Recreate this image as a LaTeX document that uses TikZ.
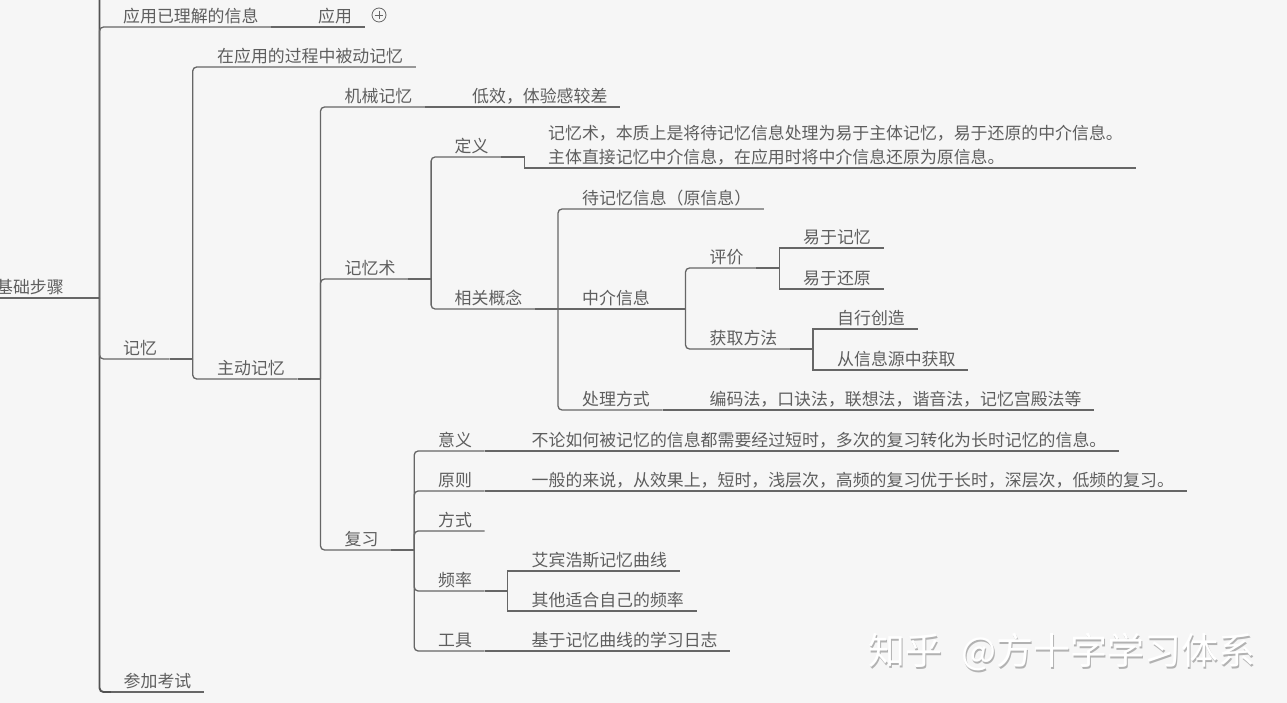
\documentclass[tikz,border=0pt]{standalone}
\usepackage{fontspec}
\setmainfont{Noto Sans CJK SC}
\definecolor{paper}{HTML}{F6F6F6}
\definecolor{ink}{HTML}{5E5E5E}
\definecolor{rule}{HTML}{666666}
\begin{document}
\begin{tikzpicture}[x=1pt,y=1pt]
\tikzstyle{every node}+=[inner ysep=3pt,inner xsep=12.5pt,text=ink,font=\fontsize{16.9}{24}\selectfont]
\tikzstyle{topic}=[anchor=south west,text height=15pt,text depth=1.5pt]
\tikzstyle{branch}=[rule,line width=1.3pt,rounded corners=4pt]
\tikzstyle{fork}=[rule,line width=1.3pt]
\tikzstyle{trunk}=[black!68,line width=1.9pt,rounded corners=4pt]
\useasboundingbox (0,0) rectangle (1287,-703);
\clip (0,0) rectangle (1287,-703);
\fill [paper] (0,0) rectangle (1287,-703);
\coordinate (offtop) at (99.5,0);
\node [topic] (jichu) at (-16.5,-298) {基础步骤};
\node [topic] (lijie) at (110.5,-27) {应用已理解的信息};
\node [topic] (yingyong) at (305.5,-27) {应用};
\node [topic] (jiyi) at (110.5,-359) {记忆};
\node [topic] (kaoshi) at (111,-692) {参加考试};
\node [topic] (beidong) at (204.5,-67) {在应用的过程中被动记忆};
\node [topic] (zhudong) at (204.5,-379) {主动记忆};
\node [topic] (jixie) at (332,-107) {机械记忆};
\node [topic] (dixiao) at (459.5,-107) {低效，体验感较差};
\node [topic] (jiyishu) at (332,-279) {记忆术};
\node [topic] (fuxi) at (332,-550) {复习};
\node [topic] (dingyi) at (442,-157) {定义};
\node [topic,align=left,text height=39pt] (neirong) at (535.5,-168) {记忆术，本质上是将待记忆信息处理为易于主体记忆，易于还原的中介信息。\\主体直接记忆中介信息，在应用时将中介信息还原为原信息。};
\node [topic] (gainian) at (442,-309) {相关概念};
\node [topic] (daijiyi) at (569.5,-209) {待记忆信息（原信息）};
\node [topic] (zhongjie) at (569.5,-309) {中介信息};
\node [topic] (chuli) at (569.5,-410) {处理方式};
\node [topic] (bianma) at (697,-410) {编码法，口诀法，联想法，谐音法，记忆宫殿法等};
\node [topic] (pingjia) at (697,-268) {评价};
\node [topic] (huoqu) at (697,-349) {获取方法};
\node [topic] (yiji) at (790.5,-248) {易于记忆};
\node [topic] (yihuan) at (790.5,-289) {易于还原};
\node [topic] (zixing) at (824.5,-329) {自行创造};
\node [topic] (xinxiyuan) at (824.5,-370) {从信息源中获取};
\node [topic] (yiyi) at (425.5,-451) {意义};
\node [topic] (buzhi) at (519,-451) {不论如何被记忆的信息都需要经过短时，多次的复习转化为长时记忆的信息。};
\node [topic] (yuanze) at (425.5,-491) {原则};
\node [topic] (yiban) at (519,-491) {一般的来说，从效果上，短时，浅层次，高频的复习优于长时，深层次，低频的复习。};
\node [topic] (fangshi) at (425.5,-531) {方式};
\node [topic] (pinlv) at (425.5,-591) {频率};
\node [topic] (aibin) at (519,-571) {艾宾浩斯记忆曲线};
\node [topic] (qita) at (519,-611) {其他适合自己的频率};
\node [topic] (gongju) at (425.5,-651) {工具};
\node [topic] (rizhi) at (519,-651) {基于记忆曲线的学习日志};
\node [draw=rule,line width=0.8pt,circle,inner sep=0pt,minimum size=14pt] (more) at (379,-15) {};
\draw [rule,line width=0.8pt,shorten <=3pt,shorten >=3pt] (more.west) -- (more.east);
\draw [rule,line width=0.8pt,shorten <=3pt,shorten >=3pt] (more.north) -- (more.south);
\draw [branch] (jichu.south west) -- (jichu.south east) -- ++(23,0);
\draw [trunk] (offtop) |- (kaoshi.south west);
\draw [branch] (kaoshi.south west) -- (kaoshi.south east);
\draw [branch] (jichu.south east) ++(23,0) |- (lijie.south east);
\draw [branch] (jichu.south east) ++(23,0) |- (jiyi.south east);
\draw [branch] (lijie.south east) -- (yingyong.south east);
\draw [branch] (jiyi.south east) -- ++(23,0);
\draw [branch] (jiyi.south east) ++(23,0) |- (beidong.south east);
\draw [branch] (jiyi.south east) ++(23,0) |- (zhudong.south east);
\draw [branch] (zhudong.south east) -- ++(23,0);
\draw [branch] (zhudong.south east) ++(23,0) |- (jixie.south east);
\draw [branch] (zhudong.south east) ++(23,0) |- (jiyishu.south east);
\draw [branch] (zhudong.south east) ++(23,0) |- (fuxi.south east);
\draw [branch] (jixie.south east) -- (dixiao.south east);
\draw [branch] (jiyishu.south east) -- ++(23,0);
\draw [branch] (jiyishu.south east) ++(23,0) |- (dingyi.south east);
\draw [branch] (jiyishu.south east) ++(23,0) |- (gainian.south east);
\draw [fork] (dingyi.south east) -- ++(23,0) |- (neirong.south east);
\draw [branch] (gainian.south east) -- (zhongjie.south east);
\draw [branch] (gainian.south east) ++(23,0) |- (daijiyi.south east);
\draw [branch] (gainian.south east) ++(23,0) |- (chuli.south east);
\draw [branch] (chuli.south east) -- (bianma.south east);
\draw [branch] (zhongjie.south east) -- ++(23,0);
\draw [branch] (zhongjie.south east) ++(23,0) |- (pingjia.south east);
\draw [branch] (zhongjie.south east) ++(23,0) |- (huoqu.south east);
\draw [fork] (pingjia.south east) -- ++(23,0);
\draw [fork] (pingjia.south east) ++(23,0) |- (yiji.south east);
\draw [fork] (pingjia.south east) ++(23,0) |- (yihuan.south east);
\draw [fork] (huoqu.south east) -- ++(23,0);
\draw [fork] (huoqu.south east) ++(23,0) |- (zixing.south east);
\draw [fork] (huoqu.south east) ++(23,0) |- (xinxiyuan.south east);
\draw [branch] (fuxi.south east) -- ++(23,0);
\draw [branch] (fuxi.south east) ++(23,0) |- (yiyi.south east);
\draw [branch] (fuxi.south east) ++(23,0) |- (yuanze.south east);
\draw [branch] (fuxi.south east) ++(23,0) |- (fangshi.south east);
\draw [branch] (fuxi.south east) ++(23,0) |- (pinlv.south east);
\draw [branch] (fuxi.south east) ++(23,0) |- (gongju.south east);
\draw [branch] (yiyi.south east) -- (buzhi.south east);
\draw [branch] (yuanze.south east) -- (yiban.south east);
\draw [fork] (pinlv.south east) -- ++(23,0);
\draw [fork] (pinlv.south east) ++(23,0) |- (aibin.south east);
\draw [fork] (pinlv.south east) ++(23,0) |- (qita.south east);
\draw [branch] (gongju.south east) -- (rizhi.south east);
\node [anchor=west,inner sep=0pt,text=black!30,font=\fontsize{37}{42}\selectfont] (shadow) at (869.5,-653.5) {知乎\hspace{11pt} @方十字学习体系};
\node [anchor=west,inner sep=0pt,text=white,font=\fontsize{37}{42}\selectfont] (mark) at (868,-652) {知乎\hspace{11pt} @方十字学习体系};
\end{tikzpicture}
\end{document}
